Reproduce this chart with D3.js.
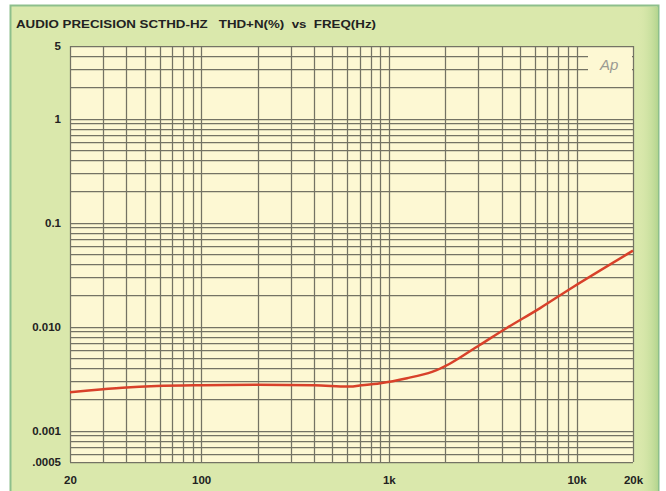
<!DOCTYPE html>
<html>
<head>
<meta charset="utf-8">
<script src="https://cdn.jsdelivr.net/npm/d3@7"></script>
<style>
  html, body { margin: 0; padding: 0; background: #ffffff; }
  svg { display: block; }
  .title { white-space: pre; }
</style>
</head>
<body>
<svg id="chart" width="666" height="491"></svg>
<script>
// THD+N (%) versus frequency (Hz)
const freqHz = [20, 30, 38, 58, 100, 200, 400, 620, 700, 900, 1250, 1700, 2100, 3050, 4250, 6400, 9600, 20000];
const thdPct = [0.00234, 0.00250, 0.00259, 0.00269, 0.00274, 0.00277, 0.00273, 0.00266, 0.00272, 0.00286, 0.00320, 0.00368, 0.00438, 0.00667, 0.00972, 0.0151, 0.0241, 0.0538];

const xTickValues = [20, 100, 1000, 10000, 20000];
const xTickLabels = ["20", "100", "1k", "10k", "20k"];
const yTickValues = [5, 1, 0.1, 0.01, 0.001, 0.0005];
const yTickLabels = ["5", "1", "0.1", "0.010", "0.001", ".0005"];

const titleText = "AUDIO PRECISION SCTHD-HZ   THD+N(%)  vs  FREQ(Hz)";

const svg = d3.select("#chart");
const plot = { left: 70, right: 633, top: 46, bottom: 462 };

const x = d3.scaleLog().domain([20, 20000]).range([plot.left, plot.right]);
const y = d3.scaleLog().domain([0.0005, 5]).range([plot.bottom, plot.top]);

// shading along the right edge of the panel
const defs = svg.append("defs");
const edge = defs.append("linearGradient").attr("id", "edgeShade")
  .attr("x1", "0").attr("x2", "1").attr("y1", "0").attr("y2", "0");
edge.append("stop").attr("offset", "0").attr("stop-color", "#d9e8ab").attr("stop-opacity", 0);
edge.append("stop").attr("offset", "1").attr("stop-color", "#b4d58f").attr("stop-opacity", 1);

// outer panel
svg.append("rect").attr("x", 10.5).attr("y", 5.5).attr("width", 648).attr("height", 490)
  .attr("fill", "#dae8ac").attr("stroke", "#8dbf8c").attr("stroke-width", 2);
svg.append("rect").attr("x", 637).attr("y", 7).attr("width", 21).attr("height", 484)
  .attr("fill", "url(#edgeShade)");

// plot background
svg.append("rect")
  .attr("x", plot.left).attr("y", plot.top)
  .attr("width", plot.right - plot.left).attr("height", plot.bottom - plot.top)
  .attr("fill", "#fdf8d3");

// log grid values (1..9 per decade)
const yGrid = [];
[0.0001, 0.001, 0.01, 0.1, 1].forEach(d => {
  for (let k = 1; k <= 9; k++) {
    const v = +(d * k).toPrecision(3);
    if (v >= 0.0005 && v <= 5) yGrid.push(v);
  }
});
const xGrid = [];
[10, 100, 1000, 10000].forEach(d => {
  for (let k = 1; k <= 9; k++) {
    const v = d * k;
    if (v >= 20 && v <= 20000) xGrid.push(v);
  }
});

const gridColor = "#747364";
const grid = svg.append("g").attr("stroke", gridColor).attr("stroke-width", 1.25).attr("fill", "none");
grid.selectAll("line.h").data(yGrid).join("line").attr("class", "h")
  .attr("x1", plot.left).attr("x2", plot.right)
  .attr("y1", d => Math.round(y(d)) + 0.5).attr("y2", d => Math.round(y(d)) + 0.5);
grid.selectAll("line.v").data(xGrid).join("line").attr("class", "v")
  .attr("y1", plot.top).attr("y2", plot.bottom)
  .attr("x1", d => Math.round(x(d)) + 0.5).attr("x2", d => Math.round(x(d)) + 0.5);

// logo area in the top-right corner
svg.append("rect").attr("x", 588).attr("y", y(4) - 5).attr("width", 44).attr("height", y(2.4) - y(4) + 5)
  .attr("fill", "#fdf8d3");
svg.append("text").attr("x", 600).attr("y", 70)
  .attr("font-family", "Liberation Sans, Arial, sans-serif")
  .attr("font-style", "italic").attr("font-size", 15)
  .attr("fill", "#9a9a92").text("Ap");

// measured curve
const line = d3.line()
  .x((d, i) => x(freqHz[i]))
  .y(d => y(d))
  .curve(d3.curveCatmullRom.alpha(0.5));
svg.append("path").datum(thdPct)
  .attr("d", line)
  .attr("fill", "none")
  .attr("stroke", "#d8412a")
  .attr("stroke-width", 2.5)
  .attr("stroke-linejoin", "round");

// axis labels
const font = "Liberation Sans, Arial, Helvetica, sans-serif";
const yAxis = d3.axisLeft(y).tickValues(yTickValues)
  .tickFormat((d, i) => yTickLabels[i]).tickSize(0).tickPadding(9);
const gy = svg.append("g").attr("transform", `translate(${plot.left},0)`).call(yAxis);
gy.select(".domain").remove();
gy.selectAll("text").attr("font-family", font).attr("font-weight", "bold")
  .attr("font-size", 11.5).attr("fill", "#222");

const xAxis = d3.axisBottom(x).tickValues(xTickValues)
  .tickFormat((d, i) => xTickLabels[i]).tickSize(0).tickPadding(14);
const gx = svg.append("g").attr("transform", `translate(0,${plot.bottom})`).call(xAxis);
gx.select(".domain").remove();
gx.selectAll("text").attr("font-family", font).attr("font-weight", "bold")
  .attr("font-size", 11.5).attr("fill", "#222");

// title
svg.append("text").attr("class", "title").attr("x", 16).attr("y", 28)
  .attr("font-family", font).attr("font-weight", "bold").attr("font-size", 11.5)
  .attr("fill", "#222")
  .attr("textLength", 360).attr("lengthAdjust", "spacingAndGlyphs")
  .text(titleText);
</script>
</body>
</html>
